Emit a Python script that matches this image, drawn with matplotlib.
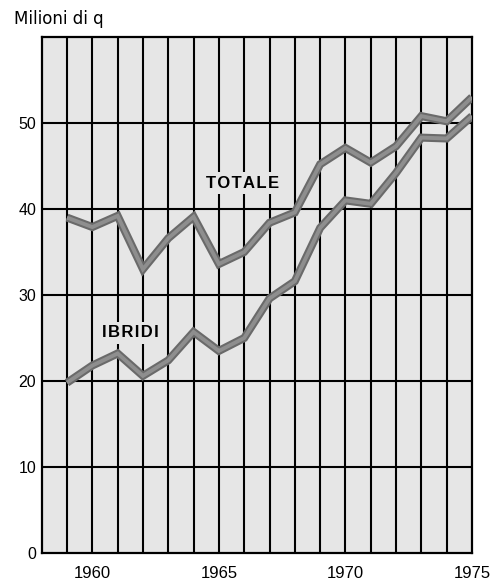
import numpy as np
import matplotlib
matplotlib.use("Agg")
import matplotlib.pyplot as plt

# data (milioni di quintali)
anni = list(range(1959, 1976))
totale = [39.0, 37.9, 39.2, 33.0, 36.6, 39.1, 33.6, 35.0, 38.4, 39.6,
          45.2, 47.1, 45.4, 47.3, 50.8, 50.2, 53.0]
ibridi = [19.8, 21.8, 23.2, 20.6, 22.4, 25.7, 23.5, 25.0, 29.6, 31.6,
          37.8, 41.0, 40.6, 44.2, 48.3, 48.2, 50.8]
y_ticks = [0, 10, 20, 30, 40, 50]
x_ticks = [1960, 1965, 1970, 1975]

plt.rcParams['font.family'] = ['Liberation Sans', 'DejaVu Sans']

fig = plt.figure(figsize=(4.93, 5.79), dpi=100)
ax = fig.add_axes([0.0846, 0.0449, 0.8728, 0.8912])
bg = '#e6e6e6'
ax.set_facecolor(bg)

ax.set_xlim(1958, 1975)
ax.set_ylim(0, 60)

# grid: every year vertically, every 10 horizontally
for yr in range(1959, 1975):
    ax.axvline(yr, color='black', lw=1.5, zorder=1)
for v in range(10, 60, 10):
    ax.axhline(v, color='black', lw=1.5, zorder=1)

for s in ax.spines.values():
    s.set_linewidth(1.6)
    s.set_color('black')

# thick grey lines with darker rim
for serie in (totale, ibridi):
    ax.plot(anni, serie, color='#6a6a6a', lw=5.8, solid_joinstyle='miter',
            solid_capstyle='butt', zorder=3)
    ax.plot(anni, serie, color='#8e8e8e', lw=2.8, solid_joinstyle='miter',
            solid_capstyle='butt', zorder=4)

hs = '\u200a'
box = dict(facecolor=bg, edgecolor='none', pad=2.5)
ax.text(1965.95, 43.0, hs.join('TOTALE'), fontsize=12, fontweight='bold',
        ha='center', va='center', bbox=box, zorder=5)
ax.text(1961.5, 25.6, hs.join('IBRIDI'), fontsize=12, fontweight='bold',
        ha='center', va='center', bbox=box, zorder=5)

ax.set_yticks(y_ticks)
ax.set_yticklabels([str(v) for v in y_ticks], fontsize=11.5)
ax.set_xticks(x_ticks)
ax.set_xticklabels([str(v) for v in x_ticks], fontsize=12)
ax.tick_params(axis='both', length=0)
ax.tick_params(axis='y', pad=4)
ax.tick_params(axis='x', pad=9)

fig.text(0.028, 0.968, 'Milioni di q', fontsize=12, ha='left', va='center',
         family=['DejaVu Sans'])

fig.savefig('out.png', dpi=100)
